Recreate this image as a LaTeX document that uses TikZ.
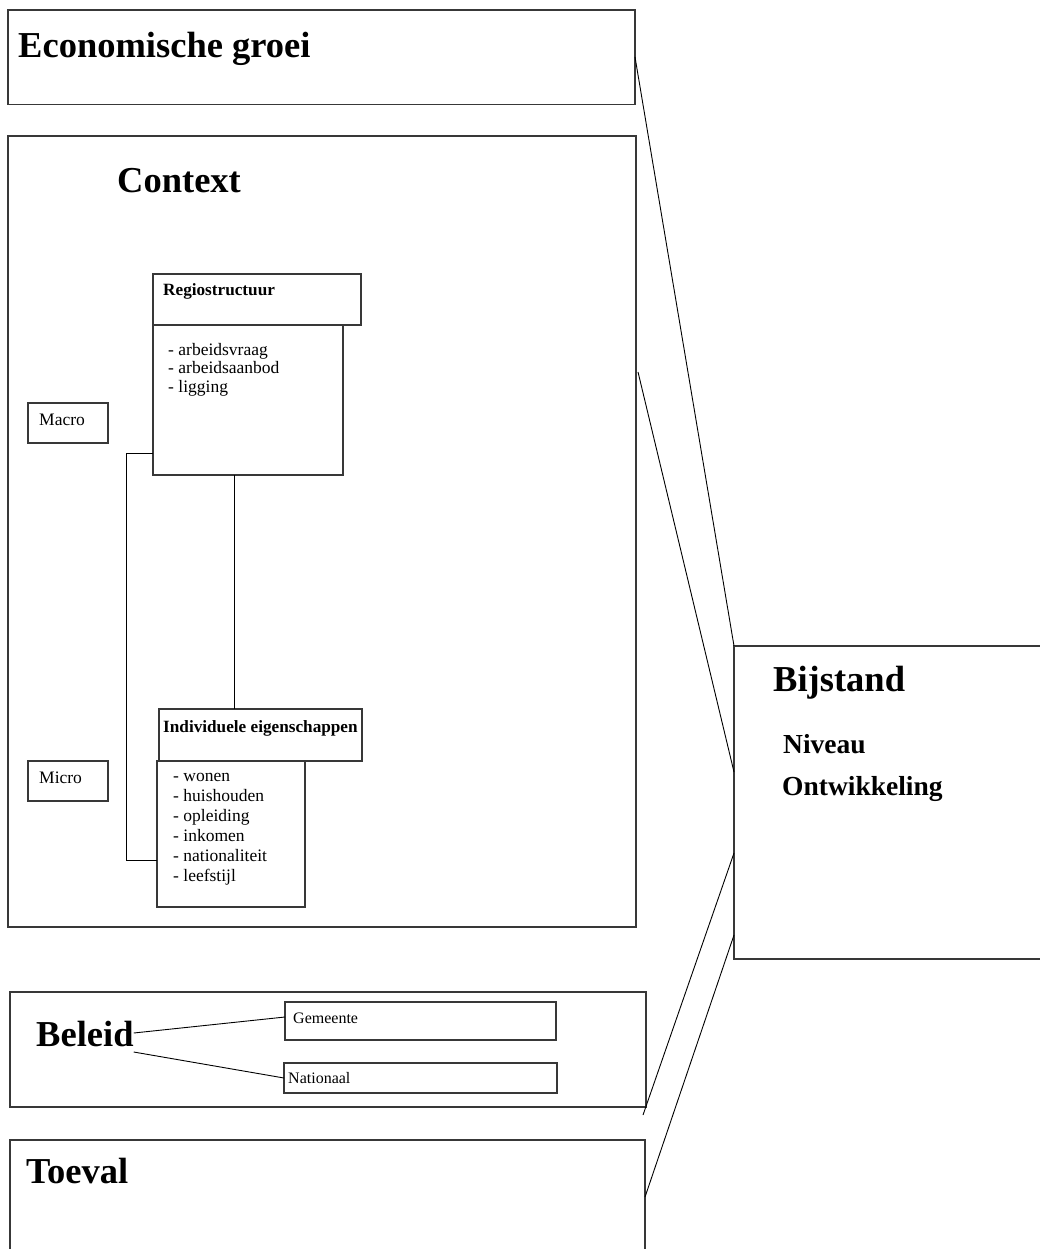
\documentclass[tikz,border=0pt]{standalone}
\usepackage{fontspec}
\setmainfont{Liberation Serif}
\usetikzlibrary{calc}
\tikzset{
  box/.style={draw=black!78, line width=1.3pt, fill=none, inner sep=0pt, outer sep=0pt, anchor=north west},
  conn/.style={draw=black, line width=0.9pt},
  big/.style={inner sep=0pt, anchor=base west, font=\fontsize{36.5}{40}\selectfont\bfseries},
  mid/.style={inner sep=0pt, anchor=base west, font=\fontsize{27.5}{32}\selectfont\bfseries},
  smallb/.style={inner sep=0pt, anchor=base west, font=\fontsize{17.2}{20}\selectfont\bfseries},
  item/.style={inner sep=0pt, anchor=base west, font=\fontsize{17.5}{20}\selectfont},
  lbl/.style={inner sep=0pt, anchor=base west, font=\fontsize{16}{19}\selectfont},
}
\begin{document}
\begin{tikzpicture}[x=1pt, y=-1pt]
\useasboundingbox (0,0) rectangle (1039,1249);
% main boxes
\node[box, minimum width=627pt, minimum height=94.7pt] (econ) at (8,10) {};
\node[box, minimum width=628pt, minimum height=791pt] (context) at (8,136) {};
\node[box, minimum width=330pt, minimum height=313pt] (bij) at (734,646) {};
\node[box, minimum width=636pt, minimum height=115pt] (beleid) at (10,992) {};
\node[box, minimum width=635pt, minimum height=140pt] (toeval) at (10,1140) {};
% inner boxes
\node[box, minimum width=208pt, minimum height=51pt] (regiohead) at (153,274) {};
\node[box, minimum width=190pt, minimum height=150pt] (regiolow) at (153,325) {};
\node[box, minimum width=203pt, minimum height=52pt] (indivhead) at (159,709) {};
\node[box, minimum width=148pt, minimum height=146pt] (indivlow) at (157,761) {};
\node[box, minimum width=80pt, minimum height=40pt] (macro) at (28,403) {};
\node[box, minimum width=80pt, minimum height=40pt] (micro) at (28,761) {};
\node[box, minimum width=271pt, minimum height=38pt] (gem) at (285,1002) {};
\node[box, minimum width=273pt, minimum height=30pt] (nat) at (284,1063) {};
% titles
\node[big] (econtxt) at (18,58) {Economische groei};
\node[big] (contexttxt) at (117,193) {Context};
\node[big] (bijtxt) at (773,691) {Bijstand};
\node[mid] (niveautxt) at (783,753) {Niveau};
\node[mid] (ontwtxt) at (782,795) {Ontwikkeling};
\node[big] (beleidtxt) at (36,1046) {Beleid};
\node[big] (toevaltxt) at (26,1183) {Toeval};
\node[smallb] (regiotxt) at (163,295) {Regiostructuur};
\node[smallb] (indivtxt) at (163,732) {Individuele eigenschappen};
\node[item] (macrotxt) at (39,425) {Macro};
\node[item] (microtxt) at (39,783) {Micro};
\node[lbl] (gemtxt) at (293,1023) {Gemeente};
\node[lbl] (nattxt) at (288,1083) {Nationaal};
\foreach \t [count=\i] in {arbeidsvraag, arbeidsaanbod, ligging}
  \node[item] (r\i) at (168, {355+18.5*(\i-1)}) {- \t};
\foreach \t [count=\i] in {wonen, huishouden, opleiding, inkomen, nationaliteit, leefstijl}
  \node[item] (p\i) at (173, {781+20*(\i-1)}) {- \t};
% helper coordinates
\coordinate (y57) at (0,57);
\coordinate (y372) at (0,372);
\coordinate (y772) at (0,772);
\coordinate (y853) at (0,853);
\coordinate (y935) at (0,935);
\coordinate (y1197) at (0,1197);
\coordinate (y453) at (0,453);
\coordinate (y860) at (0,860);
\coordinate (y1033) at (0,1033);
\coordinate (y1052) at (0,1052);
\coordinate (y1017) at (0,1017);
\coordinate (y1078) at (0,1078);
\coordinate (x234) at (234,0);
\coordinate (l3end) at (643,1115);
% connectors
\draw[conn] (econ.east |- y57) -- (bij.north west);
\draw[conn] ($(context.east |- y372)+(2,0)$) -- (bij.west |- y772);
\draw[conn] (bij.west |- y853) -- (l3end);
\draw[conn] (bij.west |- y935) -- (toeval.east |- y1197);
\draw[conn] (x234 |- regiolow.south) -- (x234 |- indivhead.north);
\draw[conn] (regiolow.west |- y453) -| ($(regiolow.west |- y860)+(-27,0)$) -- (indivlow.west |- y860);
\draw[conn] (beleidtxt.east |- y1033) -- (gem.west |- y1017);
\draw[conn] (beleidtxt.east |- y1052) -- (nat.west |- y1078);
\end{tikzpicture}
\end{document}
